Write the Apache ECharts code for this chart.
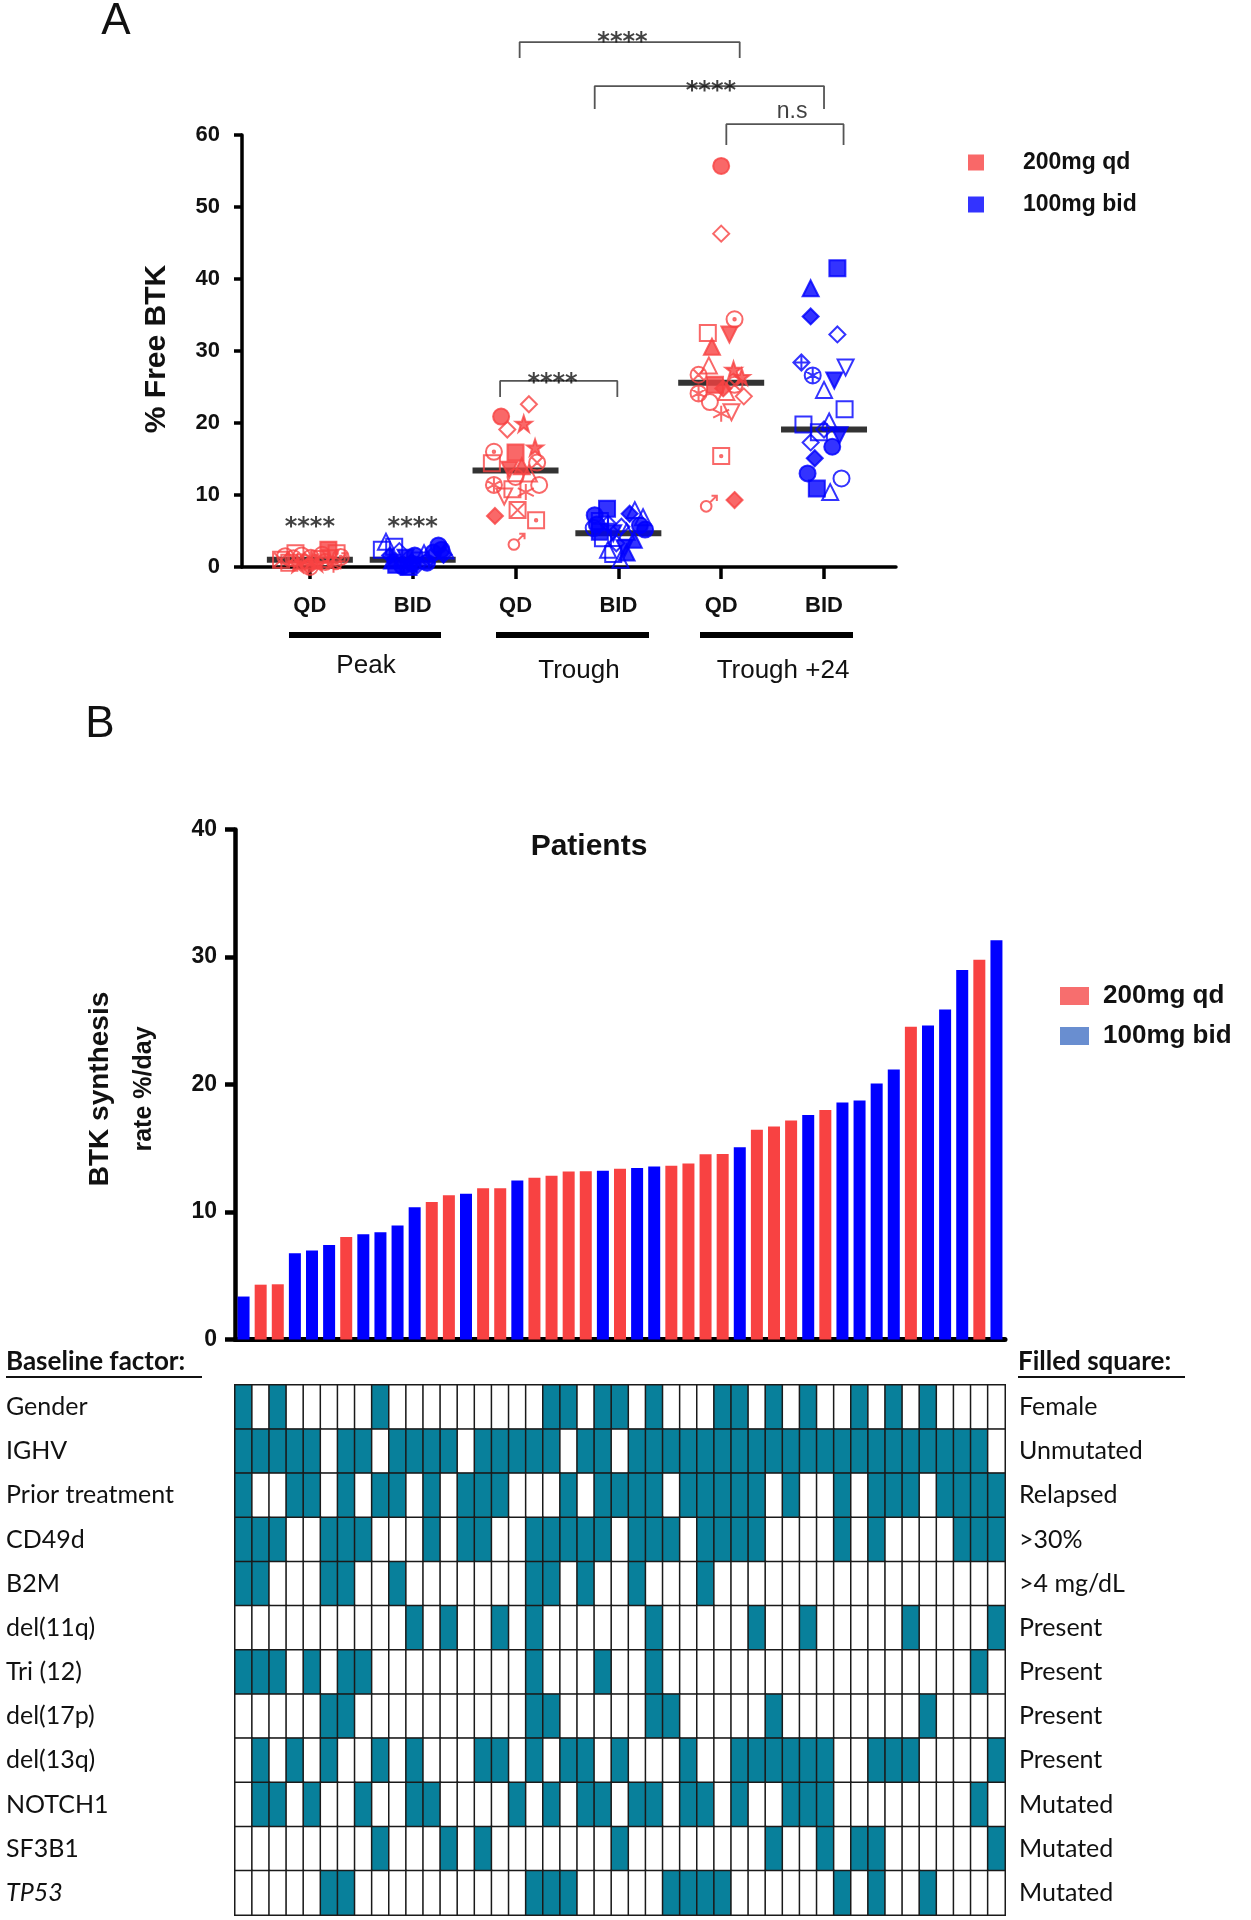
<!DOCTYPE html>
<html><head><meta charset="utf-8">
<script src="https://cdn.jsdelivr.net/npm/echarts@6/dist/echarts.min.js"></script>
<style>html,body{margin:0;padding:0;background:#fff}#c{width:1251px;height:1920px}</style>
</head><body><div id="c"></div>
<script>
// ===== Panel A data =====
const groupTickLabels = ['QD','BID','QD','BID','QD','BID'];
const phaseLabels = ['Peak','Trough','Trough +24'];
// [x position (category 1..6 with jitter), % free BTK]
const peakQD = [[0.72,1.0],[0.76,1.5],[0.80,0.6],[0.84,1.2],[0.88,0.4],[0.92,1.6],[0.95,0.8],[0.98,0.2],[1.01,1.3],[1.04,0.9],[1.07,0.5],[1.10,1.1],[1.12,1.7],[1.15,0.7],[1.18,2.4],[1.20,1.2],[1.23,0.3],[1.26,1.9],[1.28,0.8],[1.30,1.4],[0.86,1.9],[1.00,0.0]];
const peakBID = [[1.74,3.5],[1.70,2.4],[1.78,1.6],[1.80,0.9],[1.84,0.3],[1.87,2.2],[1.90,0.1],[1.93,1.3],[1.96,0.0],[1.99,0.7],[2.02,1.6],[2.05,0.3],[2.08,0.9],[2.11,1.9],[2.14,0.6],[2.17,1.3],[2.20,2.0],[2.25,3.0],[2.28,2.4],[2.30,1.7],[2.32,2.3],[1.82,2.8],[2.00,0.4]];
const troughQD = [[2.86,20.9],[3.13,22.6],[3.08,19.9],[2.92,19.1],[3.19,16.6],[2.79,16.0],[3.00,15.9],[3.21,14.5],[2.77,14.4],[2.94,13.5],[3.13,13.0],[3.06,14.0],[2.79,11.4],[3.23,11.4],[3.10,10.4],[2.89,9.8],[3.02,7.9],[2.80,7.1],[3.20,6.5],[3.01,3.5],[3.00,12.5],[2.97,10.8]];
const troughBID = [[3.89,8.1],[4.16,7.9],[3.77,7.2],[4.24,6.9],[4.11,7.4],[3.82,6.4],[3.90,6.0],[4.03,5.6],[4.21,5.8],[3.82,4.9],[4.08,4.9],[3.95,4.7],[4.26,5.2],[3.76,5.4],[3.85,4.0],[4.15,3.8],[3.98,3.3],[3.90,2.4],[4.06,2.6],[4.02,1.0],[3.95,1.8],[4.08,2.0],[3.79,5.9]];
const t24QD = [[5.00,55.7],[5.00,46.3],[4.87,32.5],[5.13,34.4],[5.08,32.3],[4.91,30.6],[4.88,28.0],[4.78,26.7],[5.12,27.4],[5.20,26.4],[4.94,25.3],[5.13,25.3],[4.78,24.1],[5.22,23.7],[4.89,22.9],[5.10,21.5],[5.00,21.3],[5.00,15.4],[4.88,8.8],[5.13,9.3],[5.02,24.8],[5.05,24.3]];
const t24BID = [[6.13,41.5],[5.87,38.7],[5.87,34.8],[6.13,32.3],[5.78,28.4],[6.21,27.7],[5.89,26.6],[6.10,25.9],[6.00,24.6],[6.20,21.9],[5.80,19.8],[6.00,19.1],[6.15,18.3],[5.87,17.3],[6.08,16.7],[5.91,15.1],[5.84,13.0],[6.17,12.3],[5.93,10.9],[6.06,10.4],[6.00,6.3],[5.95,18.7],[6.05,20.2]];
const medians = [1.0, 1.0, 13.4, 4.7, 25.6, 19.1];
const brackets = [
  [[3.04,70.7],[3.04,72.9],[5.18,72.9],[5.18,70.7]],
  [[3.77,63.6],[3.77,66.8],[6.00,66.8],[6.00,63.6]],
  [[5.05,58.6],[5.05,61.5],[6.19,61.5],[6.19,58.6]],
  [[2.85,23.6],[2.85,25.85],[3.99,25.85],[3.99,23.6]]
];
const sigLabels = [['****',4.04,72.8],['****',4.90,66.0],['****',3.36,25.4],['****',1,5.5],['****',2,5.5]];
const nsLabels = [['n.s',5.69,63.2]];

// ===== Panel B data =====
const btkRate = [3.37,4.30,4.33,6.77,6.98,7.41,8.04,8.25,8.41,8.94,10.38,10.78,11.31,11.44,11.86,11.86,12.47,12.69,12.85,13.17,13.19,13.24,13.40,13.46,13.56,13.62,13.80,14.52,14.55,15.08,16.46,16.70,17.17,17.60,18.00,18.58,18.74,20.07,21.18,24.53,24.63,25.88,28.99,29.78,31.32];
const doseGroup = ['bid','qd','qd','bid','bid','bid','qd','bid','bid','bid','bid','qd','qd','bid','qd','qd','bid','qd','qd','qd','qd','bid','qd','bid','bid','qd','qd','qd','qd','bid','qd','qd','qd','bid','qd','bid','bid','bid','bid','qd','bid','bid','bid','qd','bid'];
const factorNames = ['Gender','IGHV','Prior treatment','CD49d','B2M','del(11q)','Tri (12)','del(17p)','del(13q)','NOTCH1','SF3B1','TP53'];
const filledMeaning = ['Female','Unmutated','Relapsed','>30%','>4 mg/dL','Present','Present','Present','Present','Mutated','Mutated','Mutated'];
const gender = [1,0,1,0,0,0,0,0,1,0, 0,0,0,0,0,0,0,0,1,1, 0,1,1,0,1,0,0,0,1,1, 0,1,0,1,0,0,1,0,1,0, 1,0,0,0,0];
const ighv   = [1,1,1,1,1,0,1,1,0,1, 1,1,1,0,1,1,1,1,1,0, 1,1,0,1,1,1,1,1,1,1, 1,1,1,1,1,1,1,1,1,1, 1,1,1,1,0];
const prior  = [1,0,0,1,1,0,1,0,1,1, 0,1,0,1,1,1,0,0,0,1, 0,1,1,1,1,0,1,1,1,1, 1,0,1,0,0,1,0,1,1,1, 0,1,1,1,1];
const cd49d  = [1,1,1,0,0,1,1,1,0,0, 0,1,0,1,1,0,0,1,1,1, 1,1,0,1,1,1,0,1,1,1, 1,0,0,0,0,1,0,1,0,0, 0,0,1,1,1];
const b2m    = [1,1,0,0,0,1,1,0,0,1, 0,0,0,0,0,0,0,1,1,0, 1,0,0,1,0,0,0,1,0,0, 0,0,0,0,0,0,0,0,0,0, 0,0,0,0,0];
const del11q = [0,0,0,0,0,0,0,0,0,0, 1,0,1,0,0,1,0,1,0,0, 0,0,0,0,1,0,0,0,0,0, 1,0,0,1,0,0,0,0,0,1, 0,0,0,0,1];
const tri12  = [1,1,1,0,1,0,1,1,0,0, 0,0,0,0,0,0,0,1,0,0, 0,1,0,0,1,0,0,0,0,0, 0,0,0,0,0,0,0,0,0,0, 0,0,0,1,0];
const del17p = [0,0,0,0,0,1,1,0,0,0, 0,0,0,0,0,0,0,1,1,0, 0,0,0,0,1,1,0,0,0,0, 0,1,0,0,0,0,0,0,0,0, 1,0,0,0,0];
const del13q = [0,1,0,1,0,1,0,0,1,0, 1,0,0,0,1,1,0,1,0,1, 1,0,1,0,0,0,1,0,0,1, 1,1,1,1,1,0,0,1,1,1, 0,0,0,0,1];
const notch1 = [0,1,1,0,1,0,0,1,0,0, 1,1,0,0,0,0,1,0,1,0, 1,1,0,1,1,0,1,1,0,1, 0,0,1,1,1,0,0,0,0,0, 0,0,0,1,0];
const sf3b1  = [0,0,0,0,0,0,0,0,1,0, 0,0,1,0,1,0,0,0,0,0, 0,0,1,0,0,0,0,0,0,0, 0,1,0,0,1,0,1,1,0,0, 0,0,0,0,1];
const tp53   = [0,0,0,0,0,1,1,0,0,0, 0,0,0,0,0,0,0,1,1,1, 0,0,0,0,0,1,1,1,1,0, 0,0,0,0,0,1,0,1,0,0, 1,0,0,0,0];
const factorRows = [gender, ighv, prior, cd49d, b2m, del11q, tri12, del17p, del13q, notch1, sf3b1, tp53];

// ===== styles =====
const RED = '#F84242', BLUE = '#0000FF', TEAL = '#08809B';
const FONT = '"Liberation Sans", Arial, sans-serif';
const CAL = 'Lato, "Open Sans", sans-serif';
const C = 'M0,10A10,10,0,1,1,20,10A10,10,0,1,1,0,10Z';
const SYM = {
  fc:{s:'circle',f:1}, oc:{s:'circle'}, fs:{s:'rect',f:1}, os:{s:'rect'},
  ft:{s:'triangle',f:1}, ot:{s:'triangle'}, fdt:{s:'triangle',f:1,r:180}, odt:{s:'triangle',r:180},
  fd:{s:'diamond',f:1}, od:{s:'diamond'},
  star:{s:'path://M10,0L12.4,7H19.5L13.8,11.3L16,18.5L10,14L4,18.5L6.2,11.3L0.5,7H7.6Z',f:1},
  xc:{s:'path://'+C+'M2.9,2.9L17.1,17.1M17.1,2.9L2.9,17.1'},
  dc:{s:'path://'+C+'M8.5,10A1.5,1.5,0,1,1,11.5,10A1.5,1.5,0,1,1,8.5,10Z'},
  ds:{s:'path://M0,0H20V20H0ZM8.5,10A1.5,1.5,0,1,1,11.5,10A1.5,1.5,0,1,1,8.5,10Z'},
  xs:{s:'path://M0,0H20V20H0ZM0,0L20,20M20,0L0,20'},
  hex:{s:'path://'+C+'M10,0V20M1.3,5L18.7,15M18.7,5L1.3,15'},
  ast:{s:'path://M10,1V19M2,5.5L18,14.5M18,5.5L2,14.5'},
  male:{s:'path://M0,14A6,6,0,1,1,12,14A6,6,0,1,1,0,14ZM10,10L18,2M12,2H18V8'},
  vl:{s:'path://M10,0V20'},
  xd:{s:'path://M10,0L20,10L10,20L0,10ZM10,0V20M0,10H20'},
  dd:{s:'path://M10,0L20,10L10,20L0,10ZM8.5,10A1.5,1.5,0,1,1,11.5,10A1.5,1.5,0,1,1,8.5,10Z'}
};
const shapesPeakQD = ['xs','oc','os','xc','star','dc','od','fd','hex','ot','star','os','oc','xc','fs','odt','ast','ds','male','dc','os','oc'];
const shapesPeakBID = ['ot','os','fd','ft','fs','od','fc','fdt','fs','xd','fc','dd','os','ot','fc','od','fc','fc','fc','fd','ot','os','fc'];
const shapesTroughQD = ['fc','od','star','od','star','dc','fs','xc','os','fdt','ot','ft','hex','oc','ast','odt','xs','fd','ds','male','oc','os'];
const shapesTroughBID = ['fs','ot','fc','ot','fd','os','xd','od','fc','fs','ot','fdt','fc','oc','os','ft','od','ot','fdt','ot','os','ft','fc'];
const shapesT24QD = ['fc','od','os','dc','fdt','ft','ot','xc','star','star','fs','xc','hex','od','oc','odt','ast','ds','male','fd','fd','ot'];
const shapesT24BID = ['fs','ft','fd','od','xd','odt','hex','fdt','ot','os','os','dd','fdt','od','fc','fd','fc','oc','fs','ot','vl','os','ot'];

function styled(points, shapes, color){
  return points.map((p,i)=>{
    const k = SYM[shapes[i % shapes.length]];
    return {value:p, symbol:k.s, symbolRotate:k.r||0,
      itemStyle:{color:k.f?color:'rgba(255,255,255,0)', borderColor:color, borderWidth:2}};
  });
}
const qdPoints = [].concat(styled(peakQD,shapesPeakQD,RED), styled(troughQD,shapesTroughQD,RED), styled(t24QD,shapesT24QD,RED));
const bidPoints = [].concat(styled(peakBID,shapesPeakBID,BLUE), styled(troughBID,shapesTroughBID,BLUE), styled(t24BID,shapesT24BID,BLUE));

const patients = btkRate.map((_,i)=>String(i+1));
const qdBars = btkRate.map((v,i)=>doseGroup[i]==='qd'?v:'-');
const bidBars = btkRate.map((v,i)=>doseGroup[i]==='bid'?v:'-');
const heatData = [];
factorRows.forEach((row,r)=>row.forEach((v,c)=>heatData.push([c,r,v])));

const chart = echarts.init(document.getElementById('c'), null, {renderer:'canvas'});

const series = [
  {type:'scatter', name:'median', xAxisIndex:0, yAxisIndex:0, symbol:'rect', symbolSize:[86,6], z:2, silent:true, clip:false,
   itemStyle:{color:'#000'}, data: medians.map((m,i)=>[i+1,m])},
  {type:'scatter', name:'200mg qd', xAxisIndex:0, yAxisIndex:0, symbolSize:16, z:3, clip:false, itemStyle:{color:RED}, data:qdPoints},
  {type:'scatter', name:'100mg bid', xAxisIndex:0, yAxisIndex:0, symbolSize:16, z:3, clip:false, itemStyle:{color:BLUE}, data:bidPoints},
];
brackets.forEach(b=>series.push({type:'line', xAxisIndex:0, yAxisIndex:0, data:b, symbol:'none', clip:false, silent:true,
  lineStyle:{color:'#555', width:1.8}, z:4}));
series.push({type:'scatter', name:'sig', xAxisIndex:0, yAxisIndex:0, symbolSize:0, clip:false, silent:true, z:5,
  data: sigLabels.map(s=>({name:s[0], value:[s[1],s[2]]})),
  label:{show:true, position:'inside', formatter:'{b}', color:'#111', fontFamily:'"DejaVu Sans", sans-serif', fontSize:24, fontWeight:'bold'}});
series.push({type:'scatter', name:'ns', xAxisIndex:0, yAxisIndex:0, symbolSize:0, clip:false, silent:true, z:5,
  data: nsLabels.map(s=>({name:s[0], value:[s[1],s[2]]})),
  label:{show:true, position:'inside', formatter:'{b}', color:'#111', fontFamily:FONT, fontSize:23}});
series.push({type:'bar', name:'200mg qd', xAxisIndex:1, yAxisIndex:1, data:qdBars, barWidth:12, barGap:'-100%', itemStyle:{color:RED}});
series.push({type:'bar', name:'100mg bid', xAxisIndex:1, yAxisIndex:1, data:bidBars, barWidth:12, barGap:'-100%', itemStyle:{color:BLUE}});
const heatIndex = series.length;
series.push({type:'heatmap', xAxisIndex:2, yAxisIndex:2, data:heatData, itemStyle:{borderColor:'#1a1a1a', borderWidth:1.5}});

const axisBlack = w=>({show:true, lineStyle:{color:'#000', width:w}});

const option = {
  backgroundColor:'#fff',
  animation:false,
  grid:[
    {left:242, top:135, width:654, height:432, containLabel:false, outerBoundsMode:'none'},
    {left:235, top:829.5, width:770, height:510, containLabel:false, outerBoundsMode:'none'},
    {left:235, top:1385, width:770, height:530, containLabel:false, outerBoundsMode:'none'}
  ],
  xAxis:[
    {type:'value', gridIndex:0, min:0.34, max:6.70, axisLine:axisBlack(3.5),
     axisTick:{show:true, length:12, lineStyle:{color:'#000', width:3.5}, customValues:[1,2,3,4,5,6]},
     axisLabel:{show:true, customValues:[1,2,3,4,5,6], formatter:v=>groupTickLabels[Math.round(v)-1], margin:28,
       color:'#111', fontFamily:FONT, fontWeight:'bold', fontSize:22},
     splitLine:{show:false}},
    {type:'category', gridIndex:1, data:patients, axisLine:axisBlack(5), axisTick:{show:false}, axisLabel:{show:false}, splitLine:{show:false}},
    {type:'category', gridIndex:2, data:patients, show:false}
  ],
  yAxis:[
    {type:'value', gridIndex:0, min:0, max:60, interval:10, axisLine:axisBlack(3.5),
     axisTick:{show:true, length:8, lineStyle:{color:'#000', width:3.5}},
     axisLabel:{margin:22, color:'#111', fontFamily:FONT, fontWeight:'bold', fontSize:22}, splitLine:{show:false}},
    {type:'value', gridIndex:1, min:0, max:40, interval:10, axisLine:axisBlack(4.5),
     axisTick:{show:true, length:10, lineStyle:{color:'#000', width:4.5}},
     axisLabel:{margin:18, color:'#111', fontFamily:FONT, fontWeight:'bold', fontSize:23}, splitLine:{show:false}},
    {type:'category', gridIndex:2, data:factorNames, inverse:true, axisLine:{show:false}, axisTick:{show:false}, splitLine:{show:false},
     axisLabel:{margin:229, align:'left', color:'#111', fontFamily:CAL, fontSize:25,
       formatter:v=>v==='TP53'?'{i|TP53}':v, rich:{i:{fontStyle:'italic', fontFamily:CAL, fontSize:25, color:'#111'}}}},
    {type:'category', gridIndex:2, position:'right', data:filledMeaning, inverse:true, axisLine:{show:false}, axisTick:{show:false}, splitLine:{show:false},
     axisLabel:{margin:14, align:'left', color:'#111', fontFamily:CAL, fontSize:25}}
  ],
  visualMap:{type:'piecewise', show:false, seriesIndex:heatIndex, dimension:2,
    pieces:[{value:0, color:'#ffffff'},{value:1, color:TEAL}]},
  legend:[
    {data:[{name:'200mg qd', itemStyle:{color:RED}},{name:'100mg bid', itemStyle:{color:BLUE}}],
     icon:'rect', itemWidth:16, itemHeight:16, orient:'vertical', left:963, top:146, itemGap:19, selectedMode:false,
     textStyle:{color:'#111', fontFamily:FONT, fontWeight:'bold', fontSize:23, lineHeight:16, padding:[0,0,0,34]}},
    {data:[{name:'200mg qd', itemStyle:{color:'#F54A4A'}},{name:'100mg bid', itemStyle:{color:'#4472C4'}}],
     icon:'rect', itemWidth:29, itemHeight:18, orient:'vertical', left:1055, top:978, itemGap:14, selectedMode:false,
     textStyle:{color:'#111', fontFamily:FONT, fontWeight:'bold', fontSize:26, lineHeight:18, padding:[0,0,0,9]}}
  ],
  graphic:[
    {type:'text', x:116, y:22, style:{text:'A', font:'44px '+FONT, fill:'#111', textAlign:'center', textVerticalAlign:'middle'}},
    {type:'text', x:100, y:725, style:{text:'B', font:'44px '+FONT, fill:'#111', textAlign:'center', textVerticalAlign:'middle'}},
    {type:'text', x:157, y:349, rotation:Math.PI/2, style:{text:'% Free BTK', font:'bold 30px '+FONT, fill:'#111', textAlign:'center', textVerticalAlign:'middle'}},
    {type:'rect', shape:{x:289, y:632, width:152, height:6}, style:{fill:'#000'}},
    {type:'rect', shape:{x:496, y:632, width:153, height:6}, style:{fill:'#000'}},
    {type:'rect', shape:{x:700, y:632, width:153, height:6}, style:{fill:'#000'}},
    {type:'text', x:366, y:666, style:{text:phaseLabels[0], font:'26px '+FONT, fill:'#111', textAlign:'center', textVerticalAlign:'middle'}},
    {type:'text', x:579, y:671, style:{text:phaseLabels[1], font:'26px '+FONT, fill:'#111', textAlign:'center', textVerticalAlign:'middle'}},
    {type:'text', x:783, y:671, style:{text:phaseLabels[2], font:'26px '+FONT, fill:'#111', textAlign:'center', textVerticalAlign:'middle'}},
    {type:'text', x:589, y:847, style:{text:'Patients', font:'bold 30px '+FONT, fill:'#111', textAlign:'center', textVerticalAlign:'middle'}},
    {type:'text', x:100, y:1089, rotation:Math.PI/2, style:{text:'BTK synthesis', font:'bold 28px '+FONT, fill:'#111', textAlign:'center', textVerticalAlign:'middle'}},
    {type:'text', x:144, y:1089, rotation:Math.PI/2, style:{text:'rate %/day', font:'bold 25px '+FONT, fill:'#111', textAlign:'center', textVerticalAlign:'middle'}},
    {type:'text', x:6, y:1362, style:{text:'Baseline factor:', font:'bold 26px '+CAL, fill:'#111', textAlign:'left', textVerticalAlign:'middle'}},
    {type:'line', shape:{x1:6, y1:1377, x2:202, y2:1377}, style:{stroke:'#111', lineWidth:2}},
    {type:'text', x:1018, y:1362, style:{text:'Filled square:', font:'bold 26px '+CAL, fill:'#111', textAlign:'left', textVerticalAlign:'middle'}},
    {type:'line', shape:{x1:1018, y1:1377, x2:1185, y2:1377}, style:{stroke:'#111', lineWidth:2}}
  ],
  series: series
};
chart.setOption(option);
</script>
</body></html>
